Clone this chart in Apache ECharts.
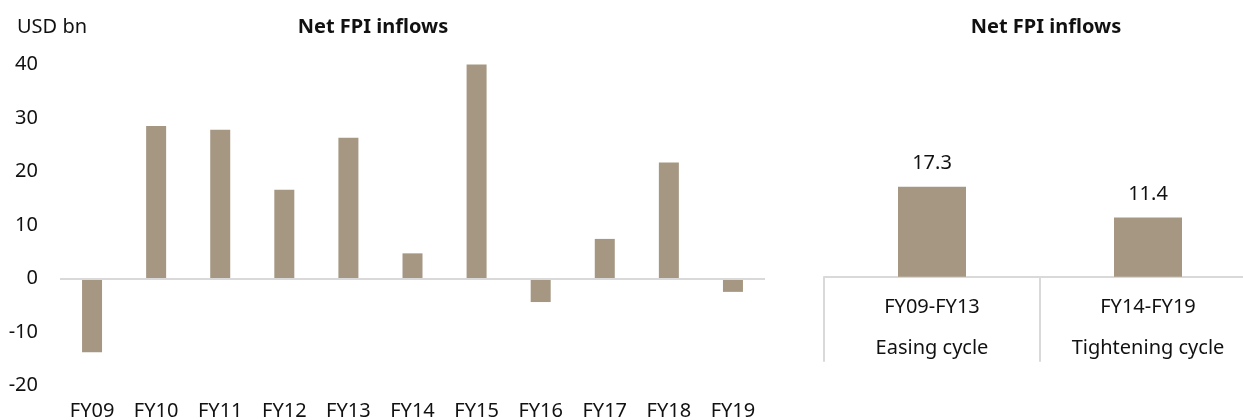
<!DOCTYPE html>
<html>
<head>
<meta charset="utf-8">
<script src="https://cdn.jsdelivr.net/npm/echarts@6/dist/echarts.min.js"></script>
<style>
  html, body { margin: 0; padding: 0; background: #fff; }
  #main { width: 1243px; height: 420px; }
</style>
</head>
<body>
<div id="main"></div>
<script>
// yearly net FPI inflows, USD bn
const years = ['FY09', 'FY10', 'FY11', 'FY12', 'FY13', 'FY14', 'FY15', 'FY16', 'FY17', 'FY18', 'FY19'];
const inflows = [-13.8, 28.5, 27.8, 16.6, 26.3, 4.7, 40.2, -4.4, 7.4, 21.7, -2.5];

// cycle averages
const cycles = ['FY09-FY13\nEasing cycle', 'FY14-FY19\nTightening cycle'];
const cycleAvg = [17.3, 11.4];

const barColor = '#a69782';
const lineColor = '#d9d9d9';
const font = 'Noto Sans';

const myChart = echarts.init(document.querySelector('#main'));

const option = {
	animation: false,
	textStyle: {fontFamily: font, color: '#111'},
	title: [
		{
			text: 'USD bn',
			left: 12, top: 12,
			textStyle: {fontFamily: font, fontSize: 20, fontWeight: 'normal', color: '#111'}
		},
		{
			text: 'Net FPI inflows',
			left: 368, top: 12, textAlign: 'center',
			textStyle: {fontFamily: font, fontSize: 20, fontWeight: 'bold', color: '#111'}
		},
		{
			text: 'Net FPI inflows',
			left: 1041, top: 12, textAlign: 'center',
			textStyle: {fontFamily: font, fontSize: 20, fontWeight: 'bold', color: '#111'}
		}
	],
	grid: [
		{left: 60, top: 64.5, width: 705, height: 321, outerBoundsMode: 'none'},
		// right chart runs past the canvas edge, as in the original
		{left: 824, top: 68.7, width: 432, height: 208, outerBoundsMode: 'none'}
	],
	xAxis: [
		{
			type: 'category',
			gridIndex: 0,
			data: years,
			axisLine: {show: false},
			axisTick: {show: false},
			axisLabel: {fontFamily: font, fontSize: 20, color: '#111', margin: 16}
		},
		{
			type: 'category',
			gridIndex: 1,
			data: cycles,
			axisLine: {show: true, lineStyle: {color: lineColor, width: 2}},
			axisTick: {show: true, length: 85, lineStyle: {color: lineColor, width: 2}},
			axisLabel: {fontFamily: font, fontSize: 20, color: '#111', margin: 10, lineHeight: 41}
		}
	],
	yAxis: [
		{
			type: 'value',
			gridIndex: 0,
			min: -20, max: 40, interval: 10,
			axisLine: {show: false},
			axisTick: {show: false},
			splitLine: {show: false},
			axisLabel: {fontFamily: font, fontSize: 20, color: '#111', margin: 22}
		},
		{
			type: 'value',
			gridIndex: 1,
			min: 0, max: 40,
			show: false,
			splitLine: {show: false}
		}
	],
	series: [
		{
			name: 'Net FPI inflows',
			type: 'bar',
			xAxisIndex: 0, yAxisIndex: 0,
			data: inflows,
			barWidth: 20,
			itemStyle: {color: barColor},
			markLine: {
				silent: true,
				symbol: 'none',
				label: {show: false},
				lineStyle: {color: lineColor, width: 2, type: 'solid'},
				data: [{yAxis: 0}]
			}
		},
		{
			name: 'Cycle average',
			type: 'bar',
			xAxisIndex: 1, yAxisIndex: 1,
			data: cycleAvg,
			barWidth: 68,
			itemStyle: {color: barColor},
			label: {
				show: true,
				position: 'top',
				distance: 13,
				fontFamily: font,
				fontSize: 20,
				color: '#111',
				formatter: p => p.value.toFixed(1)
			}
		}
	]
};

myChart.setOption(option);
</script>
</body>
</html>
